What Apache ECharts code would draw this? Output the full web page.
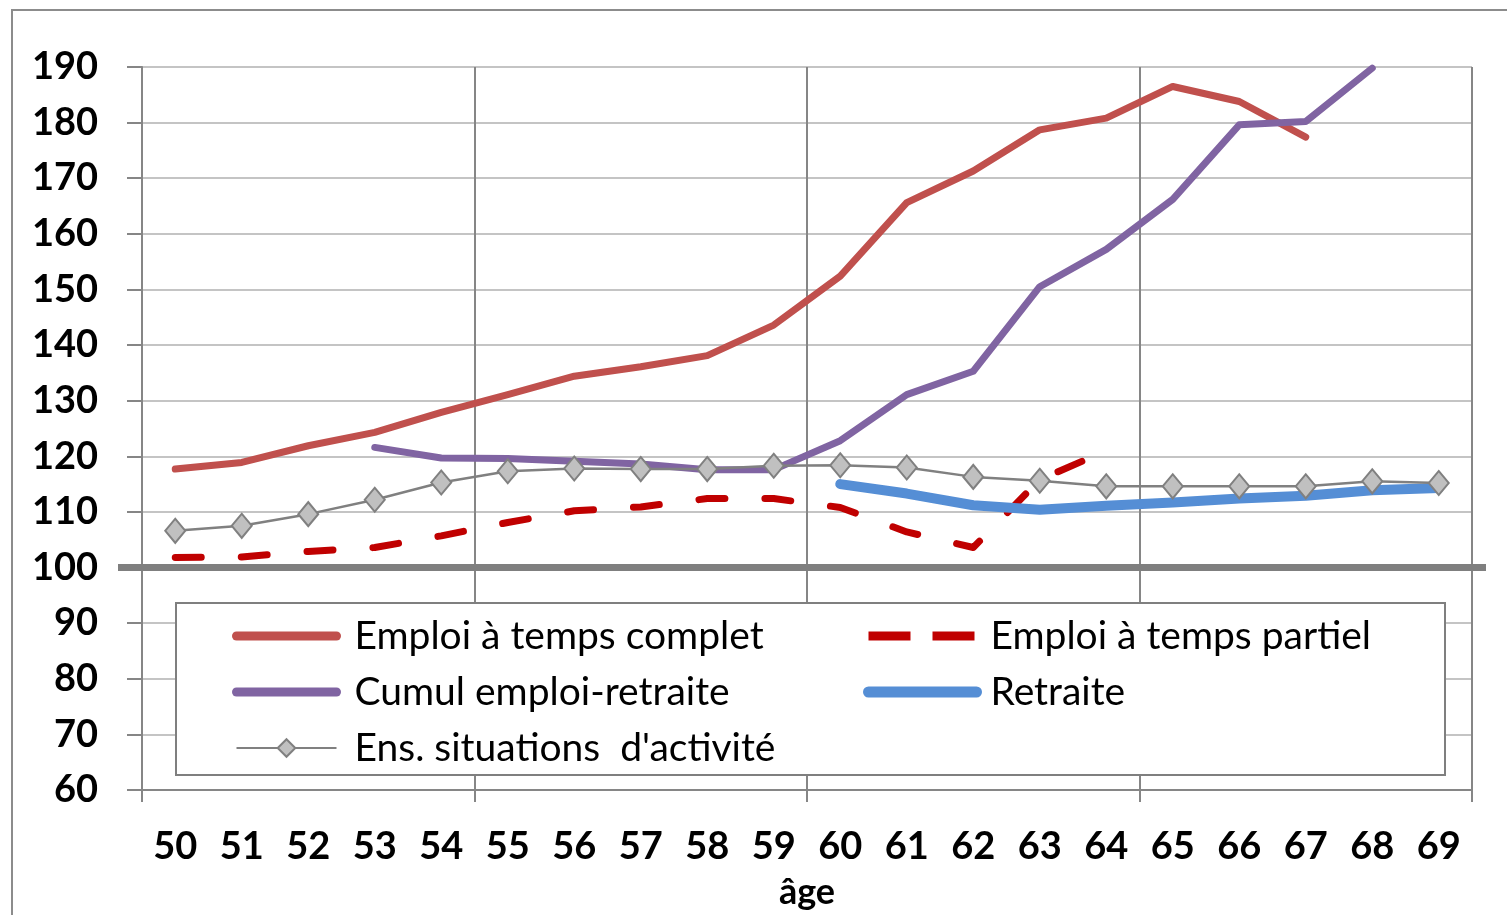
<!DOCTYPE html>
<html>
<head>
<meta charset="utf-8">
<script src="https://cdn.jsdelivr.net/npm/echarts@6/dist/echarts.min.js"></script>
<style>
  html, body { margin: 0; padding: 0; background: #fff; }
  #chart { width: 1507px; height: 915px; }
</style>
</head>
<body>
<div id="chart"></div>
<script>
const ages = ['50', '51', '52', '53', '54', '55', '56', '57', '58', '59',
              '60', '61', '62', '63', '64', '65', '66', '67', '68', '69']
const yTicks = { min: 60, max: 190, step: 10 }
const baseValue = 100

const tempsComplet = [117.7, 118.9, 121.9, 124.3, 127.9, 131.1, 134.4, 136.1, 138.1, 143.6,
                      152.4, 165.6, 171.3, 178.7, 180.8, 186.5, 183.8, 177.4, null, null]
const tempsPartiel = [101.8, 101.9, 102.9, 103.6, 105.7, 108.1, 110.2, 110.9, 112.4, 112.4,
                      110.8, 106.4, 103.6, 115.8, 121.0, null, null, null, null, null]
const cumul = [null, null, null, 121.6, 119.7, 119.6, 119.1, 118.6, 117.6, 117.6,
               122.8, 131.1, 135.3, 150.5, 157.2, 166.2, 179.6, 180.2, 189.8, null]
const retraite = [null, null, null, null, null, null, null, null, null, null,
                  115.0, 113.3, 111.2, 110.4, 111.1, 111.7, 112.4, 112.9, 113.9, 114.3]
const ensemble = [106.6, 107.5, 109.6, 112.2, 115.3, 117.3, 117.8, 117.7, 117.7, 118.3,
                  118.4, 118.0, 116.3, 115.6, 114.6, 114.6, 114.6, 114.6, 115.5, 115.2]

const names = ['Emploi à temps complet', 'Emploi à temps partiel', 'Cumul emploi-retraite',
               'Retraite', "Ens. situations  d'activité"]

const font = 'Lato, "Open Sans", sans-serif'
const axisGray = '#868686'
// vertical grid every 5 ages
const everyFifth = (i) => i % 5 === 0

const chart = echarts.init(document.getElementById('chart'))

const legendText = (pad) => ({ fontFamily: font, fontSize: 39, color: '#000', lineHeight: 40, padding: [0, 0, 0, pad] })
const noSymbol = { opacity: 0 }

const frame = [
    {
        type: 'rect',
        shape: { x: 12, y: 10, width: 1600, height: 1000 },
        style: { fill: 'none', stroke: '#8c8c8c', lineWidth: 2 },
        silent: true
    },
    {
        type: 'rect',
        z: 3,
        shape: { x: 176, y: 603, width: 1269, height: 172 },
        style: { fill: '#fff', stroke: '#7f7f7f', lineWidth: 2 },
        silent: true
    }
]

chart.setOption({
    animation: false,
    backgroundColor: '#fff',
    graphic: frame,
    grid: { left: 142, right: 35, top: 67, bottom: 125 },
    legend: [
        {
            orient: 'vertical',
            left: 227,
            top: 611,
            z: 5,
            itemWidth: 100,
            itemHeight: 22,
            itemGap: 16,
            textStyle: legendText(13),
            data: [
                { name: names[0], itemStyle: noSymbol, lineStyle: { width: 9 } },
                { name: names[2], itemStyle: noSymbol, lineStyle: { width: 9 } },
                { name: names[4], lineStyle: { width: 2 } }
            ]
        },
        {
            orient: 'vertical',
            left: 858,
            top: 611,
            z: 5,
            itemWidth: 108,
            itemHeight: 22,
            itemGap: 16,
            textStyle: legendText(9),
            data: [
                { name: names[1], itemStyle: noSymbol, lineStyle: { width: 9, type: [42, 22], cap: 'butt' } },
                { name: names[3], itemStyle: noSymbol, lineStyle: { width: 11 } }
            ]
        }
    ],
    xAxis: {
        type: 'category',
        data: ages,
        boundaryGap: true,
        name: 'âge',
        nameLocation: 'middle',
        nameGap: 84,
        nameTextStyle: { fontFamily: font, fontSize: 36, fontWeight: 'bold', color: '#000' },
        axisLine: { lineStyle: { color: axisGray, width: 2 } },
        axisTick: { show: true, interval: everyFifth, length: 12, lineStyle: { color: axisGray, width: 2 } },
        axisLabel: { interval: 0, margin: 38, fontFamily: font, fontSize: 38, fontWeight: 'bold', color: '#000' },
        splitLine: { show: true, interval: everyFifth, lineStyle: { color: axisGray, width: 2 } }
    },
    yAxis: {
        type: 'value',
        min: yTicks.min,
        max: yTicks.max,
        interval: yTicks.step,
        axisLine: { show: true, lineStyle: { color: axisGray, width: 2 } },
        axisTick: { show: true, length: 15, lineStyle: { color: axisGray, width: 2 } },
        axisLabel: { margin: 44, fontFamily: font, fontSize: 38, fontWeight: 'bold', color: '#000' },
        splitLine: { lineStyle: { color: '#c4c4c4', width: 2 } }
    },
    series: [
        {
            name: names[0],
            type: 'line',
            data: tempsComplet,
            symbol: 'none',
            color: '#C0504D',
            lineStyle: { width: 7, cap: 'round', join: 'round' }
        },
        {
            name: names[1],
            type: 'line',
            data: tempsPartiel,
            symbol: 'none',
            color: '#C00000',
            lineStyle: { width: 7, type: [26, 40], cap: 'round', join: 'round' }
        },
        {
            name: names[2],
            type: 'line',
            data: cumul,
            symbol: 'none',
            color: '#8064A2',
            lineStyle: { width: 7, cap: 'round', join: 'round' }
        },
        {
            name: names[3],
            type: 'line',
            data: retraite,
            symbol: 'none',
            color: '#558ED5',
            lineStyle: { width: 10, cap: 'round', join: 'round' }
        },
        {
            name: names[4],
            type: 'line',
            data: ensemble,
            symbol: 'diamond',
            symbolSize: [20, 24],
            showSymbol: true,
            color: '#808080',
            itemStyle: { color: '#C0C0C0', borderColor: '#808080', borderWidth: 2 },
            lineStyle: { width: 2.5, color: '#808080' }
        }
    ]
})

// thick base line at 100, a bit wider than the plot like in the original
const yBase = chart.convertToPixel({ yAxisIndex: 0 }, baseValue)
chart.setOption({
    graphic: frame.concat([{
        type: 'line',
        z: 1,
        shape: { x1: 118, y1: yBase, x2: 1486, y2: yBase },
        style: { stroke: '#7f7f7f', lineWidth: 7 },
        silent: true
    }])
})
</script>
</body>
</html>
